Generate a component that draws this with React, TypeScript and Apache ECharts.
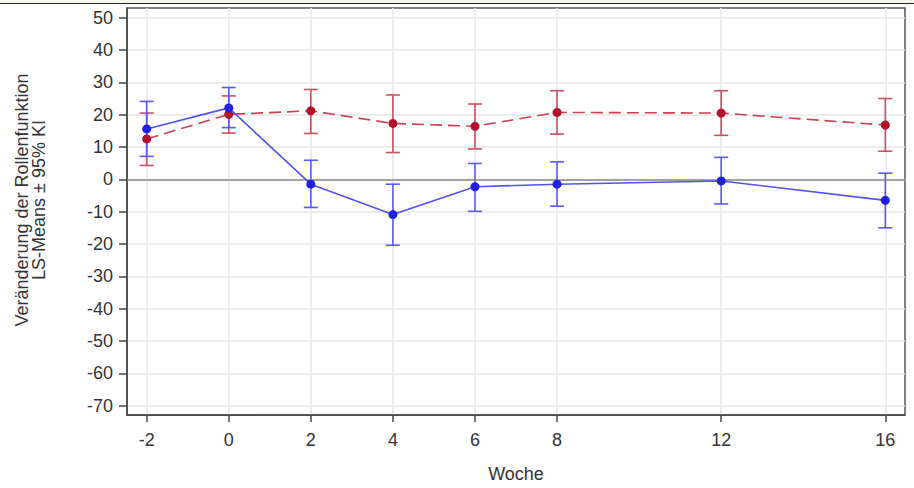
import React, { useEffect, useRef } from "react";
import * as echarts from "echarts";

const weeks = [-2, 0, 2, 4, 6, 8, 12, 16];
const xTicks = [-2, 0, 2, 4, 6, 8, 12, 16];
const yTicks = [-70, -60, -50, -40, -30, -20, -10, 0, 10, 20, 30, 40, 50];

const blueMean = [15.6, 22.1, -1.5, -10.9, -2.3, -1.5, -0.5, -6.5];
const blueLower = [7.1, 16.0, -8.7, -20.4, -9.9, -8.3, -7.6, -15.0];
const blueUpper = [24.1, 28.4, 5.9, -1.5, 4.9, 5.4, 6.8, 1.9];

const redMean = [12.5, 20.1, 21.2, 17.3, 16.4, 20.7, 20.5, 16.8];
const redLower = [4.3, 14.3, 14.2, 8.3, 9.4, 14.0, 13.6, 8.7];
const redUpper = [20.5, 25.8, 27.8, 26.1, 23.3, 27.4, 27.4, 25.0];

const yTitle = "Veränderung der Rollenfunktion\nLS-Means ± 95% KI";
const xTitle = "Woche";

const FONT = "'Liberation Sans', Arial, sans-serif";
const TEXT = "#333333";

function errorSeries(lower: number[], upper: number[], color: string) {
  return {
    type: "custom",
    z: 3,
    silent: true,
    data: weeks.map((w, i) => [w, lower[i], upper[i]]),
    encode: { x: 0, y: [1, 2] },
    renderItem: (_params: any, api: any) => {
      const x = api.value(0);
      const lo = api.coord([x, api.value(1)]);
      const hi = api.coord([x, api.value(2)]);
      const half = 7;
      const style = { stroke: color, lineWidth: 1.6, fill: "none" };
      return {
        type: "group",
        children: [
          { type: "line", shape: { x1: lo[0], y1: lo[1], x2: hi[0], y2: hi[1] }, style },
          { type: "line", shape: { x1: hi[0] - half, y1: hi[1], x2: hi[0] + half, y2: hi[1] }, style },
          { type: "line", shape: { x1: lo[0] - half, y1: lo[1], x2: lo[0] + half, y2: lo[1] }, style },
        ],
      };
    },
  };
}

export default function App() {
  const ref = useRef<HTMLDivElement>(null);
  useEffect(() => {
    if (!ref.current) return;
    const chart = echarts.init(ref.current, undefined, { renderer: "svg" });
    chart.setOption({
      animation: false,
      backgroundColor: "#ffffff",
      textStyle: { fontFamily: FONT },
      grid: {
        left: 127,
        right: 9,
        top: 8,
        bottom: 73,
        show: true,
        borderColor: "#555555",
        borderWidth: 1.5,
        backgroundColor: "transparent",
      },
      graphic: [
        { type: "rect", shape: { x: 0, y: 0, width: 914, height: 3 }, style: { fill: "#fbf9ec" }, silent: true },
        { type: "line", shape: { x1: 0, y1: 3.5, x2: 914, y2: 3.5 }, style: { stroke: "#222222", lineWidth: 1.2 }, silent: true },
        {
          type: "text",
          x: 30,
          y: 200,
          rotation: Math.PI / 2,
          silent: true,
          style: {
            text: yTitle,
            fill: TEXT,
            font: `18px ${FONT}`,
            lineHeight: 17,
            align: "center",
            verticalAlign: "middle",
          },
        },
      ],
      xAxis: {
        type: "value",
        min: -2.48,
        max: 16.48,
        name: xTitle,
        nameLocation: "middle",
        nameGap: 50,
        nameTextStyle: { color: TEXT, fontSize: 18, fontFamily: FONT },
        axisLine: { show: true, onZero: false, lineStyle: { color: "#444444", width: 1.5 } },
        axisTick: { show: true, length: 7, customValues: xTicks, lineStyle: { color: "#444444", width: 1.5 } },
        axisLabel: { customValues: xTicks, color: TEXT, fontSize: 18, margin: 16, fontFamily: FONT },
        splitLine: { show: true, lineStyle: { color: "#e6e6e6", width: 1.5 } },
      },
      yAxis: {
        type: "value",
        min: -72.9,
        max: 53,
        axisLine: { show: true, onZero: false, lineStyle: { color: "#444444", width: 1.5 } },
        axisTick: { show: true, length: 8, customValues: yTicks, lineStyle: { color: "#444444", width: 1.5 } },
        axisLabel: { customValues: yTicks, color: TEXT, fontSize: 18, margin: 14, fontFamily: FONT },
        splitLine: { show: true, lineStyle: { color: "#e6e6e6", width: 1.5 } },
      },
      series: [
        {
          type: "line",
          data: [],
          silent: true,
          markLine: {
            silent: true,
            symbol: "none",
            label: { show: false },
            lineStyle: { color: "#888888", width: 1.6, type: "solid" },
            data: [{ yAxis: 0 }],
          },
        },
        errorSeries(redLower, redUpper, "#c9505f"),
        errorSeries(blueLower, blueUpper, "#5a5af0"),
        {
          type: "line",
          z: 4,
          data: weeks.map((w, i) => [w, redMean[i]]),
          symbol: "circle",
          symbolSize: 9,
          lineStyle: { color: "#c84052", width: 1.6, type: [12, 6] },
          itemStyle: { color: "#b3102a" },
        },
        {
          type: "line",
          z: 5,
          data: weeks.map((w, i) => [w, blueMean[i]]),
          symbol: "circle",
          symbolSize: 9,
          lineStyle: { color: "#5252f0", width: 1.6 },
          itemStyle: { color: "#2020e0" },
        },
      ],
    });
    return () => chart.dispose();
  }, []);
  return <div ref={ref} style={{ width: 914, height: 488, position: "absolute", left: 0, top: 0 }} />;
}
